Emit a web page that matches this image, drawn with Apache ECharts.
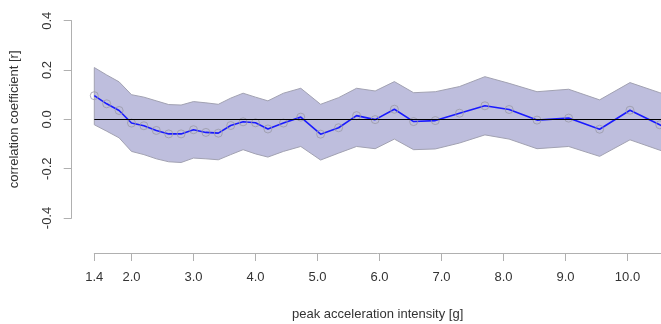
<!DOCTYPE html>
<html>
<head>
<meta charset="utf-8">
<script src="https://cdn.jsdelivr.net/npm/echarts@6/dist/echarts.min.js"></script>
<style>
  html, body { margin: 0; padding: 0; background: #fff; }
  #chart { width: 661px; height: 324px; }
</style>
</head>
<body>
<div id="chart"></div>
<script>
// peak acceleration intensity [g]
const intensity = [1.4, 1.6, 1.8, 2.0, 2.2, 2.4, 2.6, 2.8, 3.0, 3.2, 3.4, 3.6, 3.8, 4.0, 4.2,
  4.45, 4.73, 5.05, 5.34, 5.63, 5.93, 6.24, 6.55, 6.9, 7.29, 7.7, 8.09, 8.54, 9.05, 9.55, 10.04, 10.52, 11.0];
// correlation coefficient
const corr = [0.096, 0.063, 0.036, -0.015, -0.026, -0.045, -0.059, -0.059, -0.042, -0.053, -0.056, -0.025, -0.010, -0.014, -0.039,
  -0.015, 0.009, -0.060, -0.034, 0.015, -0.001, 0.041, -0.009, -0.005, 0.025, 0.055, 0.040, -0.003, 0.005, -0.040, 0.037, -0.022, -0.07];
// confidence band
const upper = [0.21, 0.18, 0.152, 0.10, 0.09, 0.075, 0.06, 0.058, 0.072, 0.067, 0.061, 0.086, 0.106, 0.09, 0.075,
  0.106, 0.126, 0.061, 0.088, 0.126, 0.115, 0.153, 0.108, 0.112, 0.133, 0.173, 0.146, 0.112, 0.122, 0.079, 0.149, 0.108, 0.07];
const lower = [-0.022, -0.048, -0.075, -0.13, -0.143, -0.16, -0.172, -0.175, -0.157, -0.16, -0.164, -0.143, -0.123, -0.14, -0.153,
  -0.13, -0.11, -0.165, -0.137, -0.11, -0.119, -0.08, -0.123, -0.12, -0.096, -0.063, -0.08, -0.119, -0.11, -0.15, -0.083, -0.125, -0.16];
const xTicks = [1.4, 2.0, 3.0, 4.0, 5.0, 6.0, 7.0, 8.0, 9.0, 10.0];
const yTicks = [-0.4, -0.2, 0.0, 0.2, 0.4];

const font = 'Liberation Sans, Arial, Helvetica, sans-serif';
const chart = echarts.init(document.getElementById('chart'));

const bandRows = intensity.map((x, i) => [x, lower[i], upper[i]]);
const corrPts = intensity.map((x, i) => [x, corr[i]]);

// whole band as one polygon: upper edge left->right, lower edge back
function renderBand(params, api) {
  if (params.dataIndex !== 0) return null;
  const top = bandRows.map(r => api.coord([r[0], r[2]]));
  const bottom = bandRows.map(r => api.coord([r[0], r[1]])).reverse();
  return {
    type: 'polygon',
    shape: { points: top.concat(bottom) },
    style: { fill: '#bebedd', stroke: '#a2a2b2', lineWidth: 1 }
  };
}

chart.setOption({
  animation: false,
  backgroundColor: '#fff',
  grid: { left: 94.3, right: 0, top: 20.7, bottom: 106, outerBoundsMode: 'none' },
  xAxis: {
    type: 'value',
    min: 1.4,
    max: 10.54,
    offset: 35,
    name: 'peak acceleration intensity [g]',
    nameLocation: 'middle',
    nameGap: 55,
    nameTextStyle: { fontFamily: font, fontSize: 13, color: '#333' },
    axisLine: { show: true, onZero: false, lineStyle: { color: '#b0b0b0', width: 1 } },
    axisTick: { show: true, customValues: xTicks, length: 8, lineStyle: { color: '#b0b0b0' } },
    axisLabel: { customValues: xTicks, formatter: v => v.toFixed(1), margin: 18, fontFamily: font, fontSize: 13, color: '#333' },
    splitLine: { show: false }
  },
  yAxis: {
    type: 'value',
    min: -0.4,
    max: 0.4,
    interval: 0.2,
    offset: 22.6,
    name: 'correlation coefficient [r]',
    nameLocation: 'middle',
    nameGap: 51,
    nameTextStyle: { fontFamily: font, fontSize: 13, color: '#333' },
    axisLine: { show: true, onZero: false, lineStyle: { color: '#b0b0b0', width: 1 } },
    axisTick: { show: true, customValues: yTicks, length: 8, lineStyle: { color: '#b0b0b0' } },
    axisLabel: { customValues: yTicks, rotate: 90, formatter: v => v.toFixed(1), margin: 18, fontFamily: font, fontSize: 13, color: '#333' },
    splitLine: { show: false }
  },
  series: [
    {
      type: 'custom',
      data: bandRows,
      encode: { x: 0, y: [1, 2] },
      renderItem: renderBand,
      silent: true,
      z: 1
    },
    {
      type: 'line',
      data: [],
      silent: true,
      markLine: {
        symbol: 'none',
        silent: true,
        label: { show: false },
        lineStyle: { color: '#000', width: 1, type: 'solid' },
        data: [{ yAxis: 0 }]
      },
      z: 2
    },
    {
      type: 'line',
      data: corrPts,
      symbol: 'none',
      lineStyle: { color: '#1a1aff', width: 1.6 },
      z: 3
    },
    {
      type: 'scatter',
      data: corrPts,
      symbol: 'circle',
      symbolSize: 8,
      itemStyle: { color: 'rgba(0,0,0,0)', borderColor: '#9a9aa6', borderWidth: 1 },
      z: 4
    }
  ]
});
</script>
</body>
</html>
